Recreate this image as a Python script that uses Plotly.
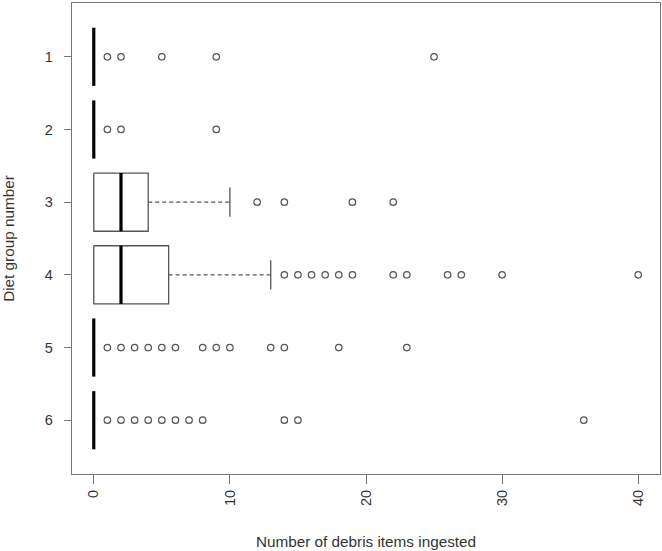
import plotly.graph_objects as go

# Diet groups and five-number summaries
groups = [1, 2, 3, 4, 5, 6]
lower_fence = [0, 0, 0, 0, 0, 0]
q1 = [0, 0, 0, 0, 0, 0]
median = [0, 0, 2, 2, 0, 0]
q3 = [0, 0, 4, 5.5, 0, 0]
upper_fence = [0, 0, 10, 13, 0, 0]

# Outlying points per group
outliers = {
    1: [1, 2, 5, 9, 25],
    2: [1, 2, 9],
    3: [12, 14, 19, 22],
    4: [14, 15, 16, 17, 18, 19, 22, 23, 26, 27, 30, 40],
    5: [1, 2, 3, 4, 5, 6, 8, 9, 10, 13, 14, 18, 23],
    6: [1, 2, 3, 4, 5, 6, 7, 8, 14, 15, 36],
}

half_box = 0.4
half_staple = 0.2
line_col = "#555555"

box_x, box_y = [], []
med_x, med_y = [], []
wh_x, wh_y = [], []
st_x, st_y = [], []
for i, g in enumerate(groups):
    # box outline (only where the box has width)
    if q3[i] > q1[i]:
        box_x += [q1[i], q3[i], q3[i], q1[i], q1[i], None]
        box_y += [g - half_box, g - half_box, g + half_box, g + half_box, g - half_box, None]
    med_x += [median[i], median[i], None]
    med_y += [g - half_box, g + half_box, None]
    # whiskers
    if upper_fence[i] > q3[i]:
        wh_x += [q3[i], upper_fence[i], None]
        wh_y += [g, g, None]
        st_x += [upper_fence[i], upper_fence[i], None]
        st_y += [g - half_staple, g + half_staple, None]
    if q1[i] > lower_fence[i]:
        wh_x += [lower_fence[i], q1[i], None]
        wh_y += [g, g, None]
        st_x += [lower_fence[i], lower_fence[i], None]
        st_y += [g - half_staple, g + half_staple, None]

out_x, out_y = [], []
for g in groups:
    out_x += outliers[g]
    out_y += [g] * len(outliers[g])

fig = go.Figure()
fig.add_trace(go.Scatter(x=wh_x, y=wh_y, mode="lines",
                         line=dict(color=line_col, width=1.3, dash="4px,3px")))
fig.add_trace(go.Scatter(x=st_x, y=st_y, mode="lines",
                         line=dict(color=line_col, width=1.3)))
fig.add_trace(go.Scatter(x=box_x, y=box_y, mode="lines",
                         line=dict(color=line_col, width=1.3)))
fig.add_trace(go.Scatter(x=med_x, y=med_y, mode="lines",
                         line=dict(color="black", width=3.2)))
fig.add_trace(go.Scatter(x=out_x, y=out_y, mode="markers",
                         marker=dict(symbol="circle-open", size=6.5,
                                     color="#555555", line=dict(width=1.2))))

axis_font = dict(family="Liberation Sans, Arial, sans-serif", size=14, color="#333333")

fig.update_layout(
    width=662, height=551,
    margin=dict(l=72, r=2, t=3, b=77),
    paper_bgcolor="white", plot_bgcolor="white",
    showlegend=False,
    font=axis_font,
    xaxis=dict(
        range=[-1.6, 41.6], tickvals=[0, 10, 20, 30, 40], tickangle=-90,
        automargin=False,
        showgrid=False, zeroline=False,
        showline=True, mirror=True, linecolor="#777777", linewidth=1.3,
        ticks="outside", ticklen=9, tickcolor="#777777", tickwidth=1.3,
        tickfont=dict(size=14.5, color="#333333"),
        title=dict(text="Number of debris items ingested", standoff=31,
                   font=dict(size=15.3, color="#333333")),
    ),
    yaxis=dict(
        range=[6.74, 0.26], tickvals=groups,
        automargin=False, ticklabelstandoff=8,
        showgrid=False, zeroline=False,
        showline=True, mirror=True, linecolor="#777777", linewidth=1.3,
        ticks="outside", ticklen=7, tickcolor="#777777", tickwidth=1.3,
        tickfont=dict(size=14.5, color="#333333"),
        title=dict(text="Diet group number", standoff=28,
                   font=dict(size=15.3, color="#333333")),
    ),
)

# drop the default page margin so the figure sits at the window origin
fig.write_html("out.html", config={"displayModeBar": False},
               post_script="document.body.style.margin='0';")
